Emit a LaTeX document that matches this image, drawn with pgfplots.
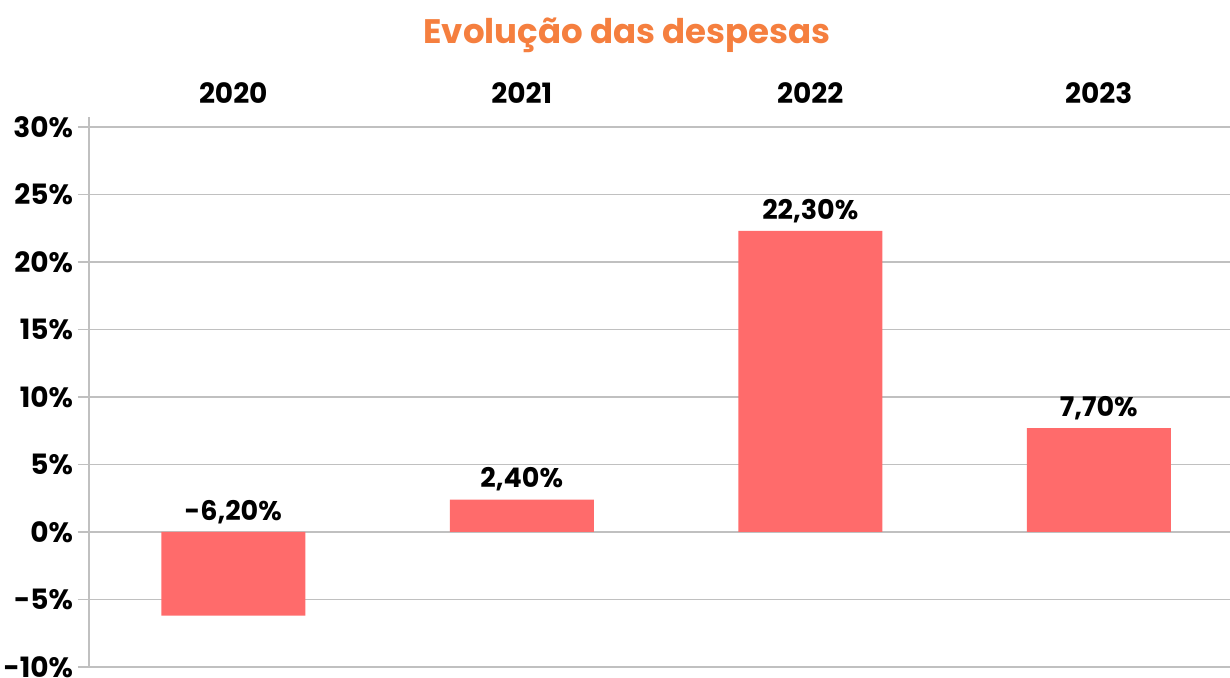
\documentclass[border=0pt]{standalone}
\usepackage{pgfplots}
\pgfplotsset{compat=1.18}
\usepackage{fontspec}
\setmainfont{Poppins}
\definecolor{barred}{HTML}{FF6B6B}
\definecolor{titleor}{HTML}{F57F3F}
\definecolor{gridg}{HTML}{C0C0C0}
\begin{document}
\begin{tikzpicture}
\useasboundingbox (-44.5pt,-5.5pt) rectangle (570.5pt,333.5pt);
\begin{axis}[
  at={(0,0)}, anchor=south west,
  scale only axis, width=577pt, height=270pt,
  xmin=-0.5, xmax=3.5, ymin=-10, ymax=30,
  axis x line*=top, axis y line*=left,
  axis line style={gridg, line width=0.6pt},
  xtick={0,1,2,3}, xticklabels={2020,2021,2022,2023},
  xtick style={draw=none},
  extra x ticks={0.5,1.5,2.5}, extra x tick labels={},
  extra x tick style={tick align=outside, major tick length=5pt, tick style={gridg, line width=0.6pt, draw=gridg}, grid=none},
  xticklabel style={font=\bfseries\fontsize{14}{16}\selectfont, yshift=2.5pt},
  ytick={-10,-5,...,30},
  yticklabel={\pgfmathprintnumber{\tick}\%},
  yticklabel style={font=\bfseries\fontsize{14}{16}\selectfont, xshift=1pt},
  ytick style={gridg, line width=0.6pt},
  tick align=outside, major tick length=5.5pt,
  /pgf/number format/assume math mode=true,
  ymajorgrids, grid style={gridg, line width=0.6pt},
  clip=false,
]
\addplot[ybar, bar width=72pt, fill=barred, draw=none] coordinates {(0,-6.2) (1,2.4) (2,22.3) (3,7.7)};
\addplot[draw=none, mark=none, nodes near coords, point meta=explicit symbolic,
  every node near coord/.style={font=\bfseries\fontsize{13.5}{15}\selectfont, anchor=south, yshift=3pt, inner sep=1pt}]
  coordinates {(0,0) [-6,20\%] (1,2.4) [2,40\%] (2,22.3) [22,30\%] (3,7.7) [7,70\%]};
\end{axis}
\draw[gridg, line width=0.6pt] (0,0) -- (0,275pt);
\node[anchor=base, font=\bfseries\fontsize{17}{19}\selectfont, text=titleor] at (269pt,311.5pt) {Evolução das despesas};
\end{tikzpicture}
\end{document}
